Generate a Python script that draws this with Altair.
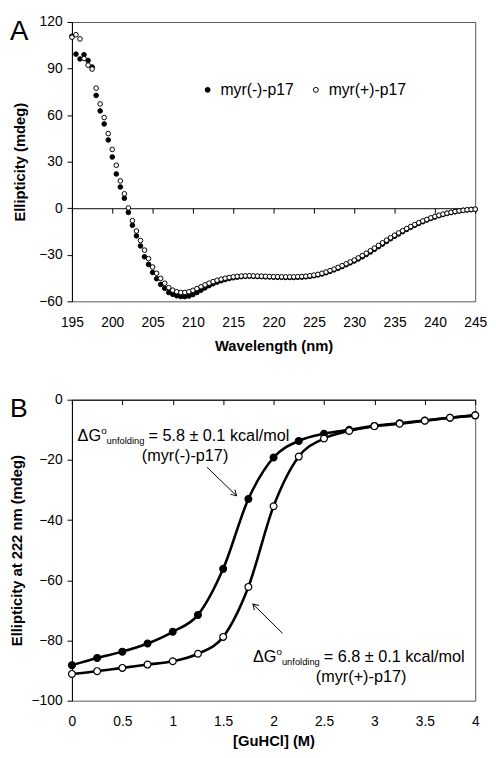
import altair as alt
import pandas as pd

FONT = "Liberation Sans"

# ---------------- Panel A data (CD spectra) ----------------
wavelength = [195 + 0.5 * i for i in range(101)]

cd_myr_minus = [
    110.8, 99.3, 96.2, 98.9, 95.2, 91.0, 72.7, 62.7, 54.3, 44.0,
    33.0, 22.1, 13.7, 6.4, -2.7, -11.0, -17.8, -24.3, -31.3, -36.2,
    -41.4, -45.4, -49.1, -51.6, -54.3, -55.5, -56.4, -56.9, -57.0, -56.6,
    -55.6, -54.3, -52.8, -51.3, -49.9, -48.7, -47.6, -46.7, -45.9, -45.3,
    -44.8, -44.4, -44.1, -43.9, -43.8, -43.9, -44.0, -44.1, -44.2, -44.3,
    -44.4, -44.5, -44.5, -44.6, -44.6, -44.6, -44.5, -44.4, -44.2, -43.9,
    -43.5, -43.0, -42.4, -41.6, -40.7, -39.7, -38.7, -37.6, -36.4, -35.2,
    -34.0, -32.7, -31.3, -29.8, -28.2, -26.5, -24.8, -23.1, -21.4, -19.7,
    -18.1, -16.6, -15.1, -13.7, -12.3, -11.0, -9.8, -8.7, -7.6, -6.6,
    -5.7, -4.8, -4.1, -3.4, -2.8, -2.3, -1.8, -1.4, -1.1, -0.9,
    -0.7,
]

cd_myr_plus = [
    110.2, 111.8, 109.1, 96.5, 92.2, 89.7, 77.4, 67.2, 58.4, 48.1,
    37.9, 27.7, 17.6, 9.3, 0.2, -8.0, -14.7, -20.8, -27.0, -32.5,
    -37.9, -41.9, -45.2, -48.3, -51.2, -52.8, -53.8, -54.3, -54.3, -53.8,
    -52.9, -51.8, -50.6, -49.4, -48.3, -47.3, -46.4, -45.7, -45.1, -44.6,
    -44.2, -43.9, -43.7, -43.6, -43.5, -43.6, -43.7, -43.8, -43.9, -44.0,
    -44.1, -44.1, -44.2, -44.2, -44.2, -44.2, -44.1, -44.0, -43.8, -43.5,
    -43.1, -42.6, -41.9, -41.1, -40.2, -39.2, -38.1, -37.0, -35.8, -34.6,
    -33.4, -32.0, -30.5, -29.0, -27.4, -25.7, -24.0, -22.3, -20.6, -19.0,
    -17.4, -15.9, -14.5, -13.1, -11.8, -10.5, -9.3, -8.2, -7.2, -6.2,
    -5.3, -4.5, -3.8, -3.2, -2.6, -2.1, -1.7, -1.3, -1.0, -0.8,
    -0.6,
]

series_names = ["myr(-)-p17", "myr(+)-p17"]
wl_ticks = [195, 200, 205, 210, 215, 220, 225, 230, 235, 240, 245]
yA_ticks = [-60, -30, 0, 30, 60, 90, 120]

# ---------------- Panel B data (GuHCl denaturation) ----------------
guhcl = [0, 0.25, 0.5, 0.75, 1, 1.25, 1.5, 1.75, 2, 2.25, 2.5, 2.75, 3, 3.25, 3.5, 3.75, 4]
ell_myr_minus = [-88.2, -85.8, -83.7, -81.0, -77.1, -71.5, -56.2, -33.0, -19.2,
                 -13.7, -11.3, -10.0, -8.7, -7.8, -6.9, -6.0, -5.2]
ell_myr_plus = [-91.1, -90.2, -89.1, -88.0, -86.9, -84.4, -78.8, -62.2, -35.4,
                -18.9, -12.9, -10.4, -8.8, -8.0, -7.0, -6.0, -5.2]
gu_ticks = [0, 0.5, 1, 1.5, 2, 2.5, 3, 3.5, 4]
yB_ticks = [-100, -80, -60, -40, -20, 0]

dg_values = ["5.8", "6.8"]
dg_series = ["(myr(-)-p17)", "(myr(+)-p17)"]
dg_anchor_x = [0.056, 1.795]      # left of "ΔG"
dg_anchor_y = [-13.6, -87.2]      # baseline
dg_sub_x = [1.122, 2.868]         # centre of the (myr..) line
dg_sub_y = [-20.5, -93.7]
arrow_start = [(1.34, -22.45), (2.088, -77.6)]
arrow_end = [(1.632, -31.9), (1.795, -67.9)]
arrow_angle = [134, 315]

# ---------------- layout ----------------
W = 410
HA = 284
HB = 306
yA_dom = [-60, 120]
yB_dom = [-100, 0]
zeroA_from_bottom = HA * (0 - yA_dom[0]) / (yA_dom[1] - yA_dom[0])

TICK = 5
LBL = 14
TTL = 15

# ---------------- Panel A ----------------
dfA = pd.DataFrame({
    "wl": wavelength * 2,
    "cd": cd_myr_minus + cd_myr_plus,
    "series": [series_names[0]] * len(wavelength) + [series_names[1]] * len(wavelength),
})

xA = alt.X("wl:Q", scale=alt.Scale(domain=[195, 245], nice=False, zero=False),
           axis=alt.Axis(values=wl_ticks, title="Wavelength (nm)", offset=-zeroA_from_bottom,
                         tickSize=TICK, labelPadding=zeroA_from_bottom + 15 - TICK,
                         titlePadding=9, labelFlush=False, labelOverlap=False, maxExtent=400))
yA = alt.Y("cd:Q", scale=alt.Scale(domain=yA_dom, nice=False, zero=False),
           axis=alt.Axis(values=yA_ticks, title="Ellipticity (mdeg)", tickSize=TICK,
                         labelPadding=5, titlePadding=11, labelOverlap=False))

pointsA = alt.Chart(dfA).mark_point(
    shape="circle", filled=True, stroke="black", strokeWidth=1, size=22, opacity=1
).encode(
    x=xA, y=yA,
    fill=alt.Fill("series:N", sort=series_names,
                  scale=alt.Scale(domain=series_names, range=["black", "white"]),
                  legend=alt.Legend(orient="none", legendX=130, legendY=61, direction="horizontal",
                                    title=None, labelFont=FONT, labelFontSize=16, labelColor="black",
                                    symbolType="circle", symbolSize=25, symbolStrokeColor="black",
                                    symbolStrokeWidth=1, labelOffset=5, columnPadding=14, padding=0)),
)

letterA = alt.Chart(pd.DataFrame({"t": ["A"]})).mark_text(
    align="left", baseline="alphabetic", fontSize=28, font=FONT, color="black"
).encode(text="t:N", x=alt.value(-63), y=alt.value(18))

panelA = alt.layer(pointsA, letterA).properties(width=W, height=HA)

# ---------------- Panel B ----------------
dfB = pd.DataFrame({
    "gu": guhcl * 2,
    "cd": ell_myr_minus + ell_myr_plus,
    "series": [series_names[0]] * len(guhcl) + [series_names[1]] * len(guhcl),
})

xB = alt.X("gu:Q", scale=alt.Scale(domain=[0, 4], nice=False, zero=False),
           axis=alt.Axis(values=gu_ticks, format="~g", title="[GuHCl] (M)", offset=-HB,
                         tickSize=TICK, labelPadding=HB + 14 - TICK, titlePadding=6,
                         labelFlush=False, labelOverlap=False, maxExtent=600))
yB = alt.Y("cd:Q", scale=alt.Scale(domain=yB_dom, nice=False, zero=False),
           axis=alt.Axis(values=yB_ticks, title="Ellipticity at 222 nm (mdeg)", tickSize=TICK,
                         labelPadding=5, titlePadding=7, labelOverlap=False))

linesB = alt.Chart(dfB).mark_line(
    interpolate="monotone", color="black", strokeWidth=2.6
).encode(x=xB, y=yB, detail="series:N")

pointsB = alt.Chart(dfB).mark_point(
    shape="circle", filled=True, stroke="black", strokeWidth=1.2, size=48, opacity=1
).encode(
    x=xB, y=yB,
    fill=alt.Fill("series:N", scale=alt.Scale(domain=series_names, range=["black", "white"]),
                  legend=None),
)

layersB = [linesB, pointsB]

for i in range(2):
    anc = pd.DataFrame({"gu": [dg_anchor_x[i]], "cd": [dg_anchor_y[i]]})
    base = alt.Chart(anc)
    layersB.append(base.mark_text(align="left", baseline="alphabetic", fontSize=16.5, font=FONT,
                                  color="black", text="ΔG").encode(x=xB, y=yB))
    layersB.append(base.mark_text(align="left", baseline="alphabetic", fontSize=10, font=FONT,
                                  color="black", text="o", dx=24, dy=-7).encode(x=xB, y=yB))
    layersB.append(base.mark_text(align="left", baseline="alphabetic", fontSize=9.5, font=FONT,
                                  color="black", text="unfolding", dx=29.5, dy=3).encode(x=xB, y=yB))
    layersB.append(base.mark_text(align="left", baseline="alphabetic", fontSize=16.5, font=FONT,
                                  color="black", text=f"= {dg_values[i]} ± 0.1 kcal/mol",
                                  dx=72).encode(x=xB, y=yB))
    sub = pd.DataFrame({"gu": [dg_sub_x[i]], "cd": [dg_sub_y[i]], "t": [dg_series[i]]})
    layersB.append(alt.Chart(sub).mark_text(align="center", baseline="alphabetic", fontSize=16.5,
                                            font=FONT, color="black").encode(x=xB, y=yB, text="t:N"))
    arr = pd.DataFrame({"gu": [arrow_start[i][0]], "cd": [arrow_start[i][1]],
                        "gu2": [arrow_end[i][0]], "cd2": [arrow_end[i][1]]})
    layersB.append(alt.Chart(arr).mark_rule(color="black", strokeWidth=1).encode(
        x=xB, y=yB, x2="gu2:Q", y2="cd2:Q"))
    head = pd.DataFrame({"gu": [arrow_end[i][0]], "cd": [arrow_end[i][1]]})
    layersB.append(alt.Chart(head).mark_point(
        shape="M -0.55 0.9 L 0 0 L 0.55 0.9", filled=False, stroke="black", strokeWidth=1,
        size=144, angle=arrow_angle[i], opacity=1).encode(x=xB, y=yB))

letterB = alt.Chart(pd.DataFrame({"t": ["B"]})).mark_text(
    align="left", baseline="alphabetic", fontSize=27, font=FONT, color="black"
).encode(text="t:N", x=alt.value(-63), y=alt.value(18))
layersB.append(letterB)

panelB = alt.layer(*layersB).properties(width=W, height=HB)

chart = alt.vconcat(panelA, panelB, spacing=38).properties(
    padding=0
).configure_view(
    stroke="#555", strokeWidth=1
).configure_axis(
    grid=False, labelFont=FONT, labelFontSize=LBL, labelColor="black",
    titleFont=FONT, titleFontSize=TTL, titleFontWeight="bold", titleColor="black",
    domainColor="black", tickColor="black", domainWidth=1, tickWidth=1
)

chart.save("out.html", embed_options={"renderer": "svg", "actions": False})
